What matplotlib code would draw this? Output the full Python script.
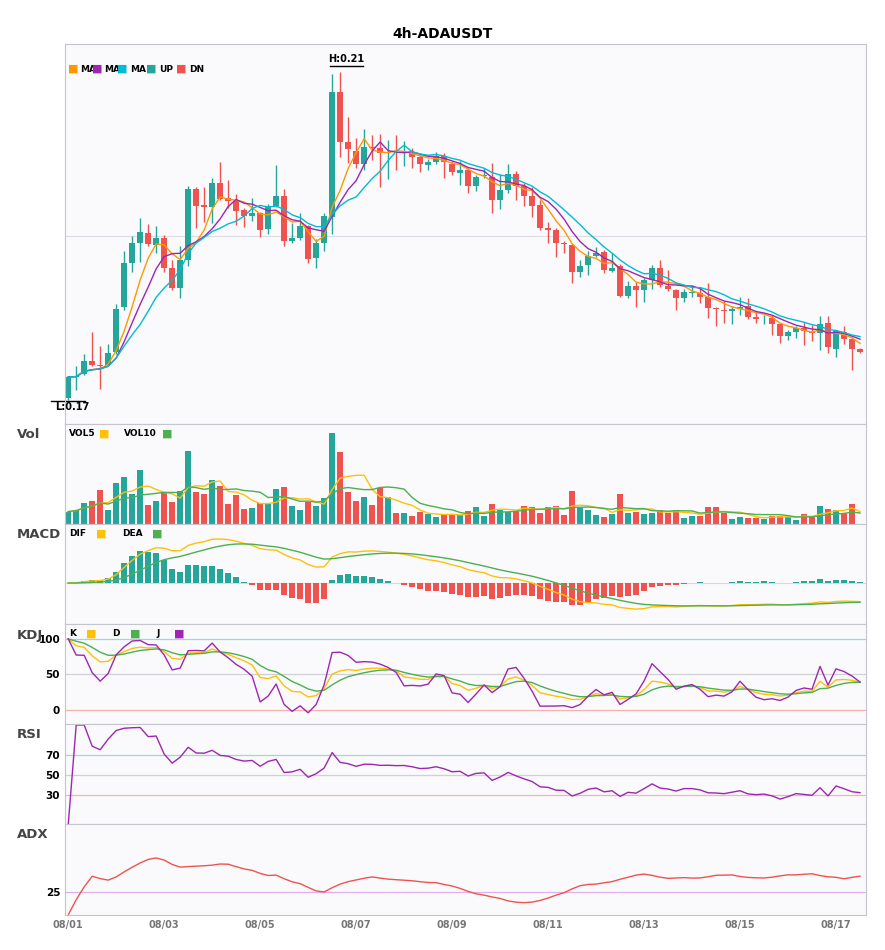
import numpy as np
import pandas as pd
import matplotlib
matplotlib.use("Agg")
import matplotlib.pyplot as plt

# 4h candles, price in units of 1e-4 USDT
opens = [1700, 1726, 1730, 1746, 1741, 1741, 1757, 1812, 1867, 1892, 1904, 1889, 1898, 1860, 1836, 1870, 1958, 1938, 1936, 1965,
         1947, 1943, 1932, 1925, 1929, 1909, 1937, 1949, 1894, 1897, 1912, 1873, 1891, 1924, 2078, 2016, 2005, 1989, 2010, 2009,
         2003, 2003, 2002, 2002, 1997, 1988, 1991, 1999, 1989, 1978, 1981, 1962, 1974, 1973, 1944, 1957, 1976, 1962, 1949, 1938,
         1910, 1907, 1891, 1889, 1856, 1864, 1875, 1880, 1857, 1863, 1826, 1838, 1833, 1846, 1861, 1838, 1833, 1824, 1830, 1830,
         1825, 1811, 1809, 1807, 1810, 1814, 1800, 1797, 1799, 1791, 1776, 1781, 1786, 1782, 1780, 1793, 1761, 1781, 1773, 1760]
closes = [1726, 1727, 1746, 1741, 1740, 1756, 1810, 1867, 1891, 1905, 1890, 1898, 1861, 1836, 1870, 1958, 1937, 1936, 1965, 1946,
          1943, 1931, 1925, 1929, 1908, 1937, 1950, 1894, 1898, 1912, 1872, 1891, 1925, 2078, 2016, 2007, 1989, 2010, 2009, 2003,
          2004, 2002, 2003, 1997, 1989, 1991, 1999, 1991, 1979, 1981, 1962, 1973, 1975, 1944, 1957, 1976, 1962, 1949, 1937, 1910,
          1907, 1891, 1890, 1855, 1863, 1875, 1879, 1858, 1861, 1826, 1838, 1833, 1846, 1861, 1840, 1835, 1824, 1831, 1831, 1825,
          1811, 1810, 1807, 1810, 1813, 1800, 1797, 1798, 1791, 1777, 1781, 1786, 1783, 1780, 1792, 1763, 1783, 1773, 1761, 1757]
highs = [1726, 1739, 1755, 1781, 1764, 1767, 1816, 1882, 1900, 1922, 1915, 1912, 1901, 1870, 1888, 1962, 1961, 1960, 1971, 1991,
         1969, 1952, 1935, 1947, 1930, 1940, 1988, 1958, 1916, 1928, 1914, 1896, 1929, 2100, 2103, 2047, 2021, 2032, 2025, 2026,
         2018, 2025, 2017, 2009, 2000, 1995, 2004, 2002, 1992, 1993, 1984, 1975, 1984, 1990, 1976, 1989, 1980, 1965, 1961, 1944,
         1917, 1910, 1894, 1890, 1870, 1881, 1887, 1883, 1879, 1866, 1844, 1843, 1848, 1864, 1870, 1858, 1835, 1835, 1840, 1837,
         1842, 1813, 1820, 1814, 1825, 1823, 1807, 1802, 1802, 1792, 1784, 1789, 1794, 1790, 1801, 1801, 1784, 1789, 1774, 1762]
lows = [1698, 1710, 1728, 1739, 1711, 1739, 1755, 1809, 1856, 1868, 1888, 1879, 1855, 1833, 1824, 1863, 1910, 1917, 1916, 1945,
        1935, 1914, 1911, 1918, 1899, 1902, 1936, 1888, 1892, 1895, 1867, 1861, 1882, 1903, 1998, 1990, 1984, 1981, 1994, 1961,
        1970, 1981, 1986, 1984, 1979, 1981, 1989, 1972, 1975, 1963, 1953, 1955, 1971, 1928, 1933, 1953, 1944, 1937, 1924, 1907,
        1891, 1874, 1879, 1842, 1849, 1852, 1874, 1854, 1855, 1825, 1823, 1813, 1819, 1835, 1837, 1832, 1809, 1819, 1825, 1817,
        1799, 1789, 1793, 1792, 1803, 1798, 1793, 1791, 1778, 1768, 1772, 1774, 1765, 1770, 1759, 1756, 1751, 1767, 1735, 1756]
volumes = [37, 43, 64, 70, 100, 43, 121, 139, 88, 160, 58, 70, 94, 67, 97, 217, 94, 88, 130, 112,
           61, 85, 46, 49, 64, 61, 103, 109, 55, 43, 67, 55, 76, 271, 214, 94, 70, 79, 58, 106,
           79, 34, 34, 25, 37, 31, 22, 26, 28, 28, 40, 52, 25, 61, 43, 37, 40, 55, 52, 34,
           52, 55, 28, 97, 49, 43, 28, 22, 31, 88, 34, 37, 31, 34, 43, 34, 43, 19, 25, 25,
           52, 52, 34, 16, 22, 19, 19, 16, 25, 25, 22, 13, 31, 22, 55, 46, 43, 34, 61, 1]
date_labels = ["08/01", "08/03", "08/05", "08/07", "08/09", "08/11", "08/13", "08/15", "08/17"]

df = pd.DataFrame({"o": opens, "h": highs, "l": lows, "c": closes, "v": volumes}).astype(float)
df[["o", "h", "l", "c"]] /= 10000.0
n = len(df)
x = np.arange(n)
up = (df.c >= df.o).values

UP, DN = "#26a69a", "#ef5350"
BG = "#fafafc"
SP = "#c4c4cc"

# indicators
ma5 = df.c.rolling(5, min_periods=1).mean()
ma7 = df.c.rolling(7, min_periods=1).mean()
ma10 = df.c.rolling(10, min_periods=1).mean()
vol5 = df.v.rolling(5, min_periods=1).mean()
vol10 = df.v.rolling(10, min_periods=1).mean()

dif = df.c.ewm(span=12, adjust=False).mean() - df.c.ewm(span=26, adjust=False).mean()
dea = dif.ewm(span=9, adjust=False).mean()
hist = 2 * (dif - dea)

llv = df.l.rolling(9, min_periods=1).min()
hhv = df.h.rolling(9, min_periods=1).max()
rsv = (df.c - llv) / (hhv - llv) * 100
kk = rsv.ewm(com=2, adjust=False).mean()
dd = kk.ewm(com=2, adjust=False).mean()
jj = 3 * kk - 2 * dd

delta = df.c.diff().fillna(0)
g = delta.clip(lower=0).ewm(alpha=1 / 14, adjust=False).mean()
ls = (-delta.clip(upper=0)).ewm(alpha=1 / 14, adjust=False).mean()
rsi = (100 * g / (g + ls)).fillna(0)

pc = df.c.shift(1).fillna(df.o)
tr = pd.concat([df.h - df.l, (df.h - pc).abs(), (df.l - pc).abs()], axis=1).max(axis=1)
upm = df.h.diff().fillna(0)
dnm = -df.l.diff().fillna(0)
pdm = np.where((upm > dnm) & (upm > 0), upm, 0.0)
ndm = np.where((dnm > upm) & (dnm > 0), dnm, 0.0)
atr = tr.ewm(alpha=1 / 14, adjust=False).mean()
pdi = 100 * pd.Series(pdm).ewm(alpha=1 / 14, adjust=False).mean() / atr
ndi = 100 * pd.Series(ndm).ewm(alpha=1 / 14, adjust=False).mean() / atr
dx = (100 * (pdi - ndi).abs() / (pdi + ndi)).fillna(0)
adx = pd.concat([pd.Series([0.0]), dx]).ewm(alpha=1 / 6, adjust=False).mean().iloc[1:].reset_index(drop=True)

fig = plt.figure(figsize=(8.85, 9.5), dpi=100)
L, W = 65 / 885, 801 / 885
rows = [(44, 424), (424, 524), (524, 624), (624, 724), (724, 824), (824, 915)]
axes = []
for t, b in rows:
    ax = fig.add_axes([L, 1 - b / 950, W, (b - t) / 950])
    ax.set_facecolor(BG)
    ax.set_xlim(-0.4, n - 0.25)
    for s in ax.spines.values():
        s.set_color(SP)
    ax.tick_params(length=0, labelsize=7.5)
    ax.set_xticks([])
    axes.append(ax)
axm, axv, axd, axk, axr, axa = axes

fig.text(0.5, 1 - 34 / 950, "4h-ADAUSDT", ha="center", va="center", fontsize=10, fontweight="bold")

# main candles
cols = np.where(up, UP, DN)
axm.vlines(x, df.l, df.h, color=cols, lw=1)
body_lo = np.minimum(df.o, df.c)
body_h = np.maximum((df.o - df.c).abs(), 0.00003)
axm.bar(x, body_h, bottom=body_lo, width=0.72, color=cols)
axm.plot(x, ma5, color="#ff9800", lw=1)
axm.plot(x, ma7, color="#9c27b0", lw=1)
axm.plot(x, ma10, color="#00bcd4", lw=1)
axm.set_ylim(0.1668, 0.2137)
axm.set_yticks([0.19])
axm.set_yticklabels([])
axm.grid(axis="y", color="#dcdce4", lw=0.8)
axm.set_axisbelow(True)
ih = int(df.h.idxmax())
il = int(df.l.idxmin())
axm.plot([ih - 1.3, ih + 2.9], [df.h[ih] + 0.0007] * 2, color="black", lw=1, clip_on=False)
axm.text(ih + 0.8, df.h[ih] + 0.0009, "H:%.2f" % df.h[ih], ha="center", va="bottom", fontsize=7, fontweight="bold")
axm.plot([il - 2.1, il + 2.1], [df.l[il] - 0.0001] * 2, color="black", lw=1, clip_on=False)
axm.text(il + 0.5, df.l[il] - 0.0003, "L:%.2f" % df.l[il], ha="center", va="top", fontsize=7, fontweight="bold")

def px2ax(p):
    return (p - 65) / 801

def legend(ax, items, y):
    for txt, tx, c, sx in items:
        ax.text(px2ax(sx), y, "■", color=c, fontsize=8, transform=ax.transAxes, va="center")
        ax.text(px2ax(tx), y, txt, fontsize=6.5, fontweight="bold", transform=ax.transAxes, va="center")

legend(axm, [("MA", 80, "#ff9800", 68), ("MA", 104, "#9c27b0", 92), ("MA", 130, "#00bcd4", 117),
             ("UP", 159, UP, 146), ("DN", 189, DN, 176)], 0.934)

# volume
axv.bar(x, df.v, width=0.72, color=cols)
axv.plot(x, vol5, color="#ffc107", lw=1)
axv.plot(x, vol10, color="#4caf50", lw=1)
axv.set_ylim(0, 298)
axv.set_yticks([])
legend(axv, [("VOL5", 69, "#ffc107", 99), ("VOL10", 124, "#4caf50", 162)], 0.9)

# macd
axd.bar(x, hist, width=0.72, color=np.where(hist >= 0, UP, DN))
axd.plot(x, dif, color="#ffc107", lw=1)
axd.plot(x, dea, color="#4caf50", lw=1)
top = dif.max() * 59 / 44
axd.set_ylim(-top * 41 / 59, top)
axd.axhline(0, color="#d8d8de", lw=0.8, zorder=0)
axd.set_yticks([])
legend(axd, [("DIF", 69, "#ffc107", 96), ("DEA", 122, "#4caf50", 152)], 0.9)

# kdj
for lv, c in [(100, "#9fd8d0"), (50, "#d0d0d6"), (0, "#f5b0b0")]:
    axk.axhline(lv, color=c, lw=0.9, zorder=0)
axk.plot(x, kk, color="#ffc107", lw=1)
axk.plot(x, dd, color="#4caf50", lw=1)
axk.plot(x, jj, color="#9c27b0", lw=1)
axk.set_ylim(-20, 121)
axk.set_yticks([0, 50, 100])
legend(axk, [("K", 69, "#ffc107", 86), ("D", 112, "#4caf50", 130), ("J", 156, "#9c27b0", 174)], 0.9)

# rsi
for lv, c in [(70, "#9fd8d0"), (50, "#d0d0d6"), (30, "#f5b0b0")]:
    axr.axhline(lv, color=c, lw=0.9, zorder=0)
axr.plot(x, rsi, color="#9c27b0", lw=1)
axr.set_ylim(1, 101)
axr.set_yticks([30, 50, 70])

# adx
axa.axhline(25, color="#e0b0e8", lw=0.9, zorder=0)
axa.plot(x, adx, color="#ef5350", lw=1)
axa.set_ylim(0, 25 * 91 / 23)
axa.set_yticks([25])
axa.set_xticks(np.arange(0, n, 12))
axa.set_xticklabels(date_labels)

for ax in axes:
    for lab in ax.get_yticklabels() + ax.get_xticklabels():
        lab.set_fontweight("bold")
for lab in axa.get_xticklabels():
    lab.set_color("#777777")
    lab.set_fontsize(7)

for (t, b), name in zip(rows[1:], ["Vol", "MACD", "KDJ", "RSI", "ADX"]):
    fig.text(17 / 885, 1 - (t + 11) / 950, name, fontsize=9.5, fontweight="bold", color="#444444", va="center")

fig.savefig("out.png", dpi=100, facecolor="white")
